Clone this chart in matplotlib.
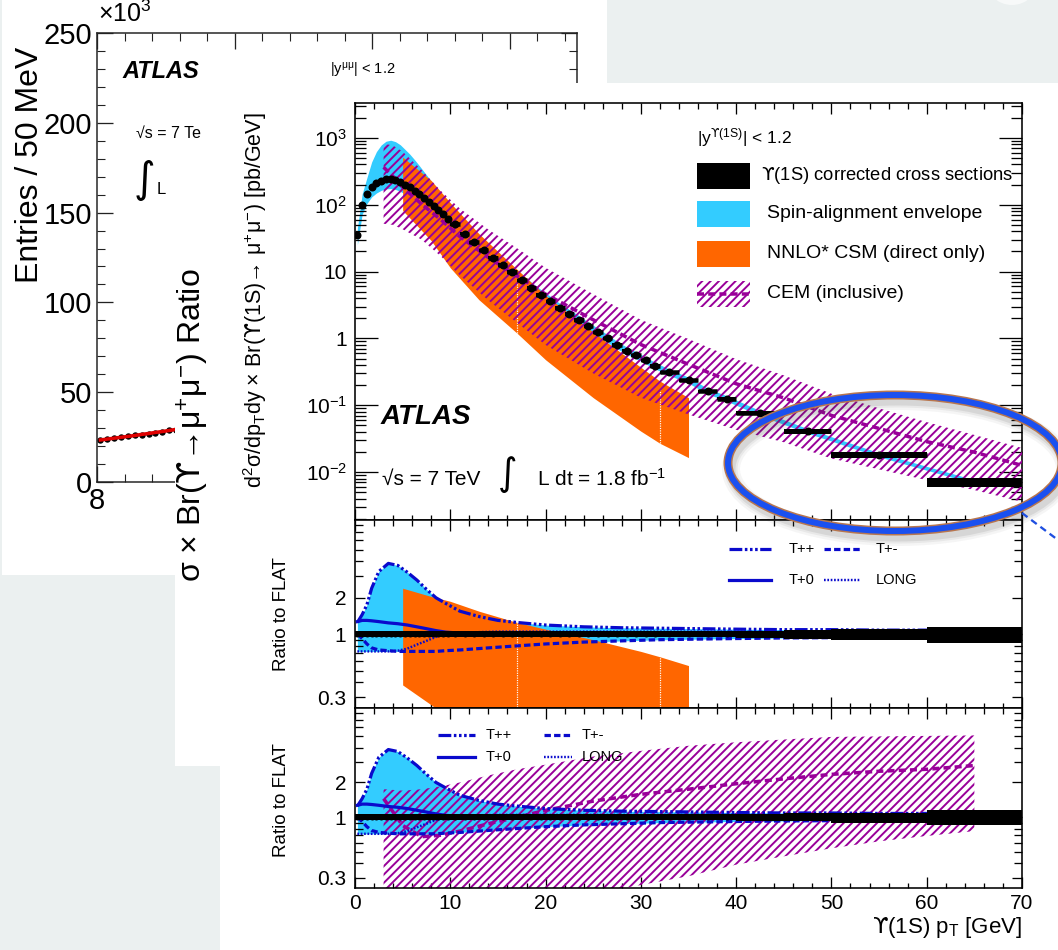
import numpy as np
import matplotlib
matplotlib.use("Agg")
import matplotlib.pyplot as plt
from matplotlib.patches import Rectangle, Ellipse
from matplotlib.lines import Line2D
from matplotlib.ticker import FixedLocator, FixedFormatter, NullFormatter, MultipleLocator

# ---------------------------------------------------------------- data
# Upsilon(1S) pT bin edges [GeV]
pt_edges = [0, 0.5, 1, 1.5, 2, 2.5, 3, 3.5, 4, 4.5, 5, 5.5, 6, 6.5, 7, 7.5, 8, 8.5, 9, 9.5, 10,
            11, 12, 13, 14, 15, 16, 17, 18, 19, 20, 21, 22, 23, 24, 25, 26, 27, 28, 29, 30, 31, 32,
            34, 36, 38, 40, 45, 50, 60, 70]
# corrected cross section per bin [pb/GeV]
xsec = [35, 100, 145, 182, 208, 228, 240, 242, 235, 220, 200, 182, 162, 143, 126, 111, 97, 84, 73, 62,
        51, 37, 27.5, 20.8, 16.2, 12.6, 9.8, 7.4, 5.7, 4.5, 3.6, 2.85, 2.32, 1.9, 1.52, 1.24, 1.0, 0.8,
        0.66, 0.56, 0.47, 0.39,
        0.31, 0.236, 0.162, 0.126,
        0.076, 0.041, 0.018, 0.0071]
xsec_rel_err = [0.06] * 46 + [0.07, 0.08, 0.10, 0.15]

# spin-alignment scenarios, ratio to the flat (isotropic) hypothesis
pol_pt = [0.25, 0.75, 1.25, 1.75, 2.5, 3.5, 4.5, 5.5, 6.5, 7.5, 8.5, 9.5, 11, 13, 15, 17, 20, 24, 28,
          32, 36, 40, 45, 50, 55, 60, 65]
ratio_tpp = [1.25, 1.45, 1.75, 2.4, 3.3, 3.85, 3.7, 3.25, 2.8, 2.35, 2.0, 1.8, 1.55, 1.4, 1.3, 1.25,
             1.19, 1.15, 1.13, 1.12, 1.11, 1.1, 1.09, 1.09, 1.08, 1.08, 1.08]
ratio_tp0 = [1.27, 1.3, 1.3, 1.29, 1.27, 1.24, 1.22, 1.19, 1.15, 1.11, 1.07, 1.04, 1.02, 1.01, 1.0,
             1.0, 1.0, 1.0, 1.0, 1.0, 1.0, 1.0, 1.0, 1.0, 1.0, 1.0, 1.0]
ratio_long = [0.72, 0.72, 0.72, 0.72, 0.72, 0.72, 0.73, 0.76, 0.82, 0.88, 0.95, 1.0, 1.03, 1.04, 1.05,
              1.05, 1.05, 1.05, 1.05, 1.05, 1.05, 1.05, 1.04, 1.04, 1.04, 1.04, 1.04]
ratio_tpm = [1.0, 0.92, 0.83, 0.77, 0.74, 0.73, 0.72, 0.72, 0.72, 0.72, 0.72, 0.73, 0.74, 0.76, 0.78,
             0.8, 0.83, 0.86, 0.88, 0.9, 0.91, 0.92, 0.93, 0.935, 0.94, 0.945, 0.95]

# NNLO* colour-singlet prediction (direct only)
csm_pt = [5, 8, 10, 13, 17, 20, 25, 30, 32, 35]
csm_hi = [516, 230, 107, 37, 10.8, 4.4, 1.24, 0.37, 0.23, 0.13]
csm_lo = [82, 29, 11.4, 3.8, 1.2, 0.48, 0.13, 0.041, 0.027, 0.0165]
csm_ratio_hi = [2.4, 2.05, 1.87, 1.55, 1.25, 1.1, 0.9, 0.72, 0.65, 0.55]
csm_ratio_lo = [0.38, 0.26, 0.2, 0.16, 0.14, 0.12, 0.095, 0.08, 0.075, 0.07]
csm_seams = [17, 32]

# colour-evaporation model (inclusive)
cem_pt = [3, 4, 5, 7, 9, 11, 14, 17, 20, 25, 30, 35, 40, 45, 50, 55, 60, 65, 70]
cem_hi = [822, 768, 624, 330, 162, 88, 42.5, 22.4, 11.4, 4.6, 1.9, 0.98, 0.49, 0.28, 0.149, 0.09,
          0.056, 0.036, 0.023]
cem_mid = [364, 264, 183, 102, 60, 33.4, 16.3, 8.6, 4.6, 1.9, 0.81, 0.41, 0.21, 0.129, 0.0705, 0.045,
           0.0286, 0.0199, 0.0126]
cem_lo = [52, 50, 43, 30, 17, 8.8, 3.7, 1.72, 0.8, 0.30, 0.13, 0.073, 0.043, 0.028, 0.016, 0.011,
          0.0076, 0.0054, 0.0036]
cemr_pt = [3, 5, 7, 9, 11, 14, 17, 20, 25, 30, 35, 40, 45, 50, 55, 60, 65]
cemr_hi = [1.75, 1.7, 1.75, 1.85, 2.0, 2.3, 2.6, 2.85, 3.35, 3.75, 4.15, 4.45, 4.7, 4.95, 5.0, 5.05, 5.1]
cemr_mid = [1.45, 0.85, 0.68, 0.7, 0.76, 0.88, 1.0, 1.15, 1.38, 1.58, 1.75, 1.95, 2.15, 2.35, 2.5, 2.6, 2.8]
cemr_lo = [0.2, 0.2, 0.2, 0.2, 0.2, 0.2, 0.2, 0.2, 0.22, 0.26, 0.31, 0.39, 0.46, 0.54, 0.62, 0.69, 0.76]

# dimuon mass spectrum (background slide)
mass_a = [8.025, 8.075, 8.125, 8.175, 8.225, 8.275, 8.325, 8.375, 8.425, 8.475, 8.525, 8.575]
entries_a = [23.3e3, 23.8e3, 24.3e3, 24.8e3, 25.4e3, 25.9e3, 26.4e3, 27.0e3, 27.5e3, 28.1e3, 28.7e3, 29.2e3]
fit_a = [23.4e3, 23.9e3, 24.4e3, 24.9e3, 25.4e3, 25.9e3, 26.5e3, 27.0e3, 27.6e3, 28.1e3, 28.7e3, 29.3e3]

top_yticks = [1e-2, 1e-1, 1, 10, 1e2, 1e3]
top_yticklabels = [r'$\mathregular{10^{-2}}$', r'$\mathregular{10^{-1}}$', '1', '10',
                   r'$\mathregular{10^{2}}$', r'$\mathregular{10^{3}}$']
ratio_yticks = [0.3, 1, 2]
ratio_yticklabels = ['0.3', '1', '2']
x_ticks = [0, 10, 20, 30, 40, 50, 60, 70]
x_ticklabels = ['0', '10', '20', '30', '40', '50', '60', '70']

# ---------------------------------------------------------------- style
W, H, DPI = 1058, 950, 100
plt.rcParams['font.family'] = ['Liberation Sans', 'DejaVu Sans']
plt.rcParams['mathtext.fontset'] = 'custom'
plt.rcParams['mathtext.rm'] = 'Liberation Sans'
plt.rcParams['mathtext.it'] = 'Liberation Sans:italic'
plt.rcParams['mathtext.bf'] = 'Liberation Sans:bold'
plt.rcParams['mathtext.sf'] = 'DejaVu Sans'
plt.rcParams['mathtext.fallback'] = 'stixsans'
plt.rcParams['hatch.linewidth'] = 1.4

CYAN = '#33ccff'
ORANGE = '#ff6600'
PURPLE = '#990099'
BLUE = '#0a0acc'
SLIDE = '#ebf0f0'
HATCH = '////'
plt.rcParams['hatch.color'] = PURPLE
UPS = r'$\mathsf{ϒ}$'


def px(v):
    return v * 72.0 / DPI


POL_STYLE = {
    'T++': dict(ls=(0, (4, 0.8, 0.8, 0.8, 0.8, 0.8, 0.8, 0.8)), lw=px(3.2)),
    'T+-': dict(ls=(0, (2.0, 1.0)), lw=px(3.2)),
    'T+0': dict(ls='-', lw=px(3.2)),
    'LONG': dict(ls=(0, (0.7, 0.7)), lw=px(2.4)),
}
POL_CURVES = [('T++', ratio_tpp), ('T+-', ratio_tpm), ('T+0', ratio_tp0), ('LONG', ratio_long)]

fig = plt.figure(figsize=(W / DPI, H / DPI), dpi=DPI)
fig.patch.set_facecolor(SLIDE)


def fbox(x0, y0, x1, y1):
    return [x0 / W, 1 - y1 / H, (x1 - x0) / W, (y1 - y0) / H]


def fpt(x, y):
    return (x / W, 1 - y / H)


def white_panel(x0, y0, x1, y1, z):
    fig.add_artist(Rectangle(fpt(x0, y1), (x1 - x0) / W, (y1 - y0) / H, transform=fig.transFigure,
                             facecolor='white', edgecolor='none', zorder=z))


def ftext(x, y, s, z=6, **kw):
    kw.setdefault('va', 'center')
    kw.setdefault('ha', 'left')
    return fig.text(x / W, 1 - y / H, s, zorder=z, **kw)


# ---------------------------------------------------------------- background slide: mass spectrum
white_panel(1.5, 0, 607, 575, 0.5)
fig.add_artist(Ellipse(fpt(1012, -22), 54 / W, 54 / H, transform=fig.transFigure,
                       facecolor='#f7f9f9', edgecolor='none', zorder=0.4))
ax_a = fig.add_axes(fbox(97, 33, 577, 482), zorder=1)
ax_a.set_facecolor('none')
ax_a.set_xlim(8, 8 + 480 / 137.5)
ax_a.set_ylim(0, 250e3)
ax_a.errorbar(mass_a, entries_a, yerr=np.sqrt(entries_a) * 3, fmt='o', color='k', ms=px(5),
              elinewidth=px(1), capsize=0, zorder=2)
ax_a.plot(mass_a, fit_a, color='#e00000', lw=px(3.5), zorder=3)
ax_a.yaxis.set_major_locator(FixedLocator([0, 50e3, 100e3, 150e3, 200e3, 250e3]))
ax_a.yaxis.set_major_formatter(FixedFormatter(['0', '50', '100', '150', '200', '250']))
ax_a.yaxis.set_minor_locator(MultipleLocator(10e3))
ax_a.xaxis.set_major_locator(FixedLocator([8, 9, 10, 11]))
ax_a.xaxis.set_major_formatter(FixedFormatter(['8', '9', '10', '11']))
ax_a.xaxis.set_minor_locator(MultipleLocator(0.2))
ax_a.tick_params(which='both', direction='in', top=True, right=True, labelsize=21, color='#222222')
ax_a.tick_params(which='major', length=px(16), width=px(1.3), pad=px(5))
ax_a.tick_params(which='minor', length=px(8), width=px(1.1))
for sp in ax_a.spines.values():
    sp.set_linewidth(px(1.5))
    sp.set_color('#222222')
ftext(98, 14, r'$\mathregular{\times10^{3}}$', z=1.5, fontsize=18)
ftext(30, 165, 'Entries / 50 MeV', z=1.5, fontsize=23, rotation=90, ha='center')
ftext(122, 72, 'ATLAS', z=1.5, fontsize=17, fontweight='bold', fontstyle='italic')
ftext(330, 70, r'|y$^{\mathregular{μμ}}$| < 1.2', z=1.5, fontsize=10.5)
ftext(136, 133, '√s = 7 Te', z=1.5, fontsize=11.5)
ftext(134, 180, '∫', z=1.5, fontsize=30, family='DejaVu Sans')
ftext(157, 190, 'L', z=1.5, fontsize=12)

# ---------------------------------------------------------------- second slide layer
white_panel(175, 145, 1058, 766, 2)
ftext(193, 425, r'σ × Br(' + UPS + r'→μ$^{\mathregular{+}}$μ$^{\mathregular{-}}$) Ratio', z=3, fontsize=23,
      rotation=90, ha='center')

# ---------------------------------------------------------------- main figure
white_panel(220, 83, 1058, 950, 4)

lo = np.array(pt_edges[:-1], dtype=float)
hi = np.array(pt_edges[1:], dtype=float)
centers = 0.5 * (lo + hi)
widths = hi - lo
xs = np.array(xsec)
err = np.array(xsec_rel_err)
pol = np.array([ratio_tpp, ratio_tp0, ratio_long, ratio_tpm])
env_hi = np.maximum(pol.max(axis=0), 1.0)
env_lo = np.minimum(pol.min(axis=0), 1.0)


def style_axes(ax, xlabels):
    ax.set_xlim(0, 70)
    ax.xaxis.set_major_locator(FixedLocator(x_ticks))
    ax.xaxis.set_minor_locator(MultipleLocator(2))
    if xlabels:
        ax.xaxis.set_major_formatter(FixedFormatter(x_ticklabels))
    else:
        ax.xaxis.set_major_formatter(NullFormatter())
    ax.tick_params(which='both', direction='in', top=True, right=True, width=px(1.3), color='k')
    ax.tick_params(axis='x', which='major', length=px(11), labelsize=15, pad=px(6))
    ax.tick_params(axis='x', which='minor', length=px(5.5))
    for sp in ax.spines.values():
        sp.set_linewidth(px(1.6))


# ---- top panel: cross section
ax1 = fig.add_axes(fbox(355, 103, 1022, 520), zorder=5)
ax1.set_yscale('log')
style_axes(ax1, False)
ax1.set_ylim(10 ** -2.716, 10 ** 3.522)
ax1.yaxis.set_major_locator(FixedLocator(top_yticks))
ax1.yaxis.set_major_formatter(FixedFormatter(top_yticklabels))
ax1.yaxis.set_minor_locator(FixedLocator([m * 10.0 ** e for e in range(-3, 4) for m in range(2, 10)]))
ax1.yaxis.set_minor_formatter(NullFormatter())
ax1.tick_params(axis='y', which='major', length=px(23), labelsize=15, pad=px(8))
ax1.tick_params(axis='y', which='minor', length=px(11))

env_hi_c = np.interp(centers, pol_pt, env_hi)
env_lo_c = np.interp(centers, pol_pt, env_lo)
ax1.fill_between(centers, xs * env_lo_c, xs * env_hi_c, color=CYAN, lw=0, zorder=1)
ax1.fill_between(csm_pt, csm_lo, csm_hi, color=ORANGE, lw=0, zorder=2)
for s in csm_seams:
    i = csm_pt.index(s)
    ax1.vlines(s, csm_lo[i], csm_hi[i] * 0.8, colors='white', linestyles=(0, (1, 1)), lw=px(1.2), zorder=2.1)
ax1.fill_between(cem_pt, cem_lo, cem_hi, facecolor='none', edgecolor=PURPLE, hatch=HATCH, lw=0, zorder=3)
ax1.plot(cem_pt, cem_mid, color=PURPLE, lw=px(3.5), ls=(0, (2.0, 1.2)), zorder=3.5)
ax1.bar(centers, xs * 2 * err, bottom=xs * (1 - err), width=widths, color='k', lw=0, zorder=4)
ax1.hlines(xs, lo, hi, colors='k', lw=px(4.5), zorder=4)
ax1.plot(centers, xs, 'o', color='k', ms=px(8), mew=0, zorder=4.5)

ftext(697, 138, r'|y$^{\mathsf{ϒ}\mathregular{(1S)}}$| < 1.2', fontsize=12.5)
legend_rows = [176, 214, 254, 294]
fig.add_artist(Rectangle(fpt(697, legend_rows[0] + 13), 53 / W, 26 / H, transform=fig.transFigure,
                         facecolor='k', edgecolor='none', zorder=6))
fig.add_artist(Rectangle(fpt(697, legend_rows[1] + 13), 53 / W, 26 / H, transform=fig.transFigure,
                         facecolor=CYAN, edgecolor='none', zorder=6))
fig.add_artist(Rectangle(fpt(697, legend_rows[2] + 13), 53 / W, 26 / H, transform=fig.transFigure,
                         facecolor=ORANGE, edgecolor='none', zorder=6))
fig.add_artist(Rectangle(fpt(697, legend_rows[3] + 13), 53 / W, 26 / H, transform=fig.transFigure,
                         facecolor='none', edgecolor=PURPLE, hatch=HATCH, lw=0, zorder=6))
fig.add_artist(Line2D([697 / W, 750 / W], [1 - legend_rows[3] / H] * 2, transform=fig.transFigure,
                      color=PURPLE, lw=px(3.5), ls=(0, (2.0, 1.2)), zorder=6.1))
ftext(761, legend_rows[0], UPS + '(1S) corrected cross sections', fontsize=13.2)
ftext(767, legend_rows[1], 'Spin-alignment envelope', fontsize=14)
ftext(767, legend_rows[2], 'NNLO* CSM (direct only)', fontsize=14)
ftext(767, legend_rows[3], 'CEM (inclusive)', fontsize=14)

ftext(381, 417, 'ATLAS', fontsize=20, fontweight='bold', fontstyle='italic')
ftext(382, 479, '√s = 7 TeV', fontsize=15)
ftext(498, 475, '∫', fontsize=27, family='DejaVu Sans')
ftext(537, 479, r'L dt = 1.8 fb$^{\mathregular{-1}}$', fontsize=15)
ftext(255, 300, r'd$^{\mathregular{2}}$σ/dp$_{\mathregular{T}}$dy × Br(' + UPS +
      r'(1S)→ μ$^{\mathregular{+}}$μ$^{\mathregular{-}}$) [pb/GeV]',
      fontsize=15.5, rotation=90, ha='center')


# ---- ratio panels
def ratio_axes(y0, y1, xlabels):
    ax = fig.add_axes(fbox(355, y0, 1022, y1), zorder=5)
    ax.set_yscale('log')
    style_axes(ax, xlabels)
    ax.set_ylim(0.245, 8.8)
    ax.yaxis.set_major_locator(FixedLocator(ratio_yticks))
    ax.yaxis.set_major_formatter(FixedFormatter(ratio_yticklabels))
    ax.yaxis.set_minor_locator(FixedLocator([0.4, 0.5, 0.6, 0.7, 0.8, 0.9, 3, 4, 5, 6, 7, 8]))
    ax.yaxis.set_minor_formatter(NullFormatter())
    ax.tick_params(axis='y', which='major', length=px(10), labelsize=15, pad=px(9))
    ax.tick_params(axis='y', which='minor', length=px(8))
    ax.fill_between(pol_pt, env_lo, env_hi, color=CYAN, lw=0, zorder=1)
    for name, vals in POL_CURVES:
        ax.plot(pol_pt, vals, color=BLUE, zorder=3, **POL_STYLE[name])
    ax.bar(centers, 2 * err, bottom=1 - err, width=widths, color='k', lw=0, zorder=4)
    ax.plot(centers, np.ones_like(centers), 'o', color='k', ms=px(6), mew=0, zorder=4.5)
    return ax


def pol_legend(rows, cols):
    names = [['T++', 'T+-'], ['T+0', 'LONG']]
    for r, y in enumerate(rows):
        for c, (xa, xb, xt) in enumerate(cols):
            name = names[r][c]
            fig.add_artist(Line2D([xa / W, xb / W], [1 - y / H] * 2, transform=fig.transFigure,
                                  color=BLUE, zorder=7, **POL_STYLE[name]))
            ftext(xt, y, name, z=7, fontsize=10.5)


ax2 = ratio_axes(520, 708, False)
ax2.fill_between(csm_pt, csm_ratio_lo, csm_ratio_hi, color=ORANGE, lw=0, zorder=2)
for s in csm_seams:
    i = csm_pt.index(s)
    ax2.vlines(s, 0.2, csm_ratio_hi[i], colors='white', linestyles=(0, (1, 1)), lw=px(1.2), zorder=2.1)
pol_legend([549, 580], [(729, 771, 789), (824, 860, 876)])
ftext(282, 614, 'Ratio to FLAT', fontsize=13.5, rotation=90, ha='center')

ax3 = ratio_axes(708, 888, True)
ax3.fill_between(cemr_pt, cemr_lo, cemr_hi, facecolor='none', edgecolor=PURPLE, hatch=HATCH, lw=0, zorder=2)
ax3.plot(cemr_pt, cemr_mid, color=PURPLE, lw=px(3.5), ls=(0, (2.0, 1.2)), zorder=2.5)
pol_legend([735, 757], [(438, 475, 486), (544, 572, 582)])
ftext(282, 800, 'Ratio to FLAT', fontsize=13.5, rotation=90, ha='center')
ftext(1022, 928, UPS + r'(1S) p$_{\mathregular{T}}$ [GeV]', fontsize=16, ha='right')

# ---------------------------------------------------------------- highlight ring and callout
ring_c = fpt(895, 463)
ring_w, ring_h = 334 / W, 136 / H
for lw_, a_ in [(18, 0.05), (13, 0.07), (9, 0.10)]:
    fig.add_artist(Ellipse(fpt(898, 469), ring_w, ring_h, transform=fig.transFigure, facecolor='none',
                           edgecolor='#404040', alpha=a_, lw=px(lw_), zorder=9))
fig.add_artist(Ellipse(ring_c, ring_w, ring_h, transform=fig.transFigure, facecolor='none',
                       edgecolor='#b8764e', lw=px(9), zorder=10))
fig.add_artist(Ellipse(ring_c, ring_w, ring_h, transform=fig.transFigure, facecolor='none',
                       edgecolor='#1a50f0', lw=px(6), zorder=10.5))
fig.add_artist(Line2D([1022 / W, 1062 / W], [1 - 513 / H, 1 - 543 / H], transform=fig.transFigure,
                      color='#1f4fe0', lw=px(2.3), ls=(0, (3, 2)), zorder=10))

fig.savefig('out.png', dpi=DPI, facecolor=fig.get_facecolor())
